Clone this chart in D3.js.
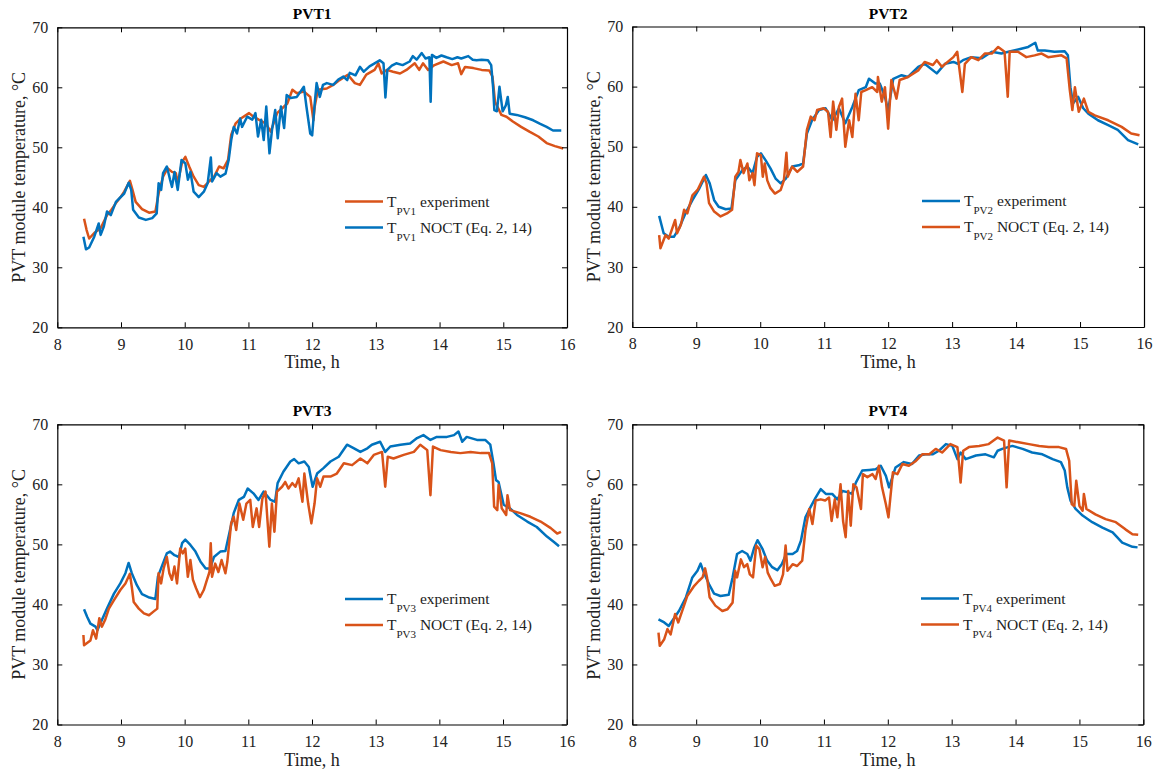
<!DOCTYPE html>
<html>
<head>
<meta charset="utf-8">
<script src="https://cdn.jsdelivr.net/npm/d3@7"></script>
<style>
  body { margin: 0; background: #fff; }
  svg { font-family: "Liberation Serif", "Times New Roman", serif; }
</style>
</head>
<body>
<svg id="chart" width="1161" height="780"></svg>
<script>
// Tick values
const hourTicks = [8, 9, 10, 11, 12, 13, 14, 15, 16];
const tempTicks = [20, 30, 40, 50, 60, 70];

// Series: [time (h), temperature (°C)]
const pvt1Exp = [[8.42,38.1],[8.46,36.2],[8.50,34.8],[8.58,35.7],[8.68,36.5],[8.78,38.7],[8.85,39.6],[8.92,40.7],[9.0,41.8],[9.05,42.6],[9.14,44.4],[9.18,42.9],[9.23,40.9],[9.33,39.7],[9.44,39.1],[9.54,39.3],[9.59,42.3],[9.66,45.1],[9.73,46.5],[9.80,45.9],[9.86,45.7],[9.89,44.0],[9.96,47.6],[10.01,48.4],[10.07,46.8],[10.14,45.1],[10.22,43.7],[10.30,43.4],[10.38,44.3],[10.46,45.1],[10.54,46.8],[10.61,46.5],[10.68,47.9],[10.73,52.1],[10.80,54.0],[10.88,54.8],[11.01,55.7],[11.08,55.1],[11.16,54.6],[11.27,54.0],[11.35,52.6],[11.45,55.7],[11.61,57.3],[11.69,59.6],[11.76,59.0],[11.87,59.3],[11.97,58.4],[12.02,54.5],[12.04,56.8],[12.09,59.6],[12.23,59.8],[12.33,60.4],[12.43,61.2],[12.56,62.1],[12.67,60.7],[12.75,60.4],[12.85,62.1],[12.98,62.9],[13.04,64.0],[13.09,62.3],[13.17,62.9],[13.27,62.6],[13.38,62.3],[13.48,62.9],[13.61,64.0],[13.68,62.9],[13.74,64.0],[13.82,62.9],[13.92,63.7],[14.06,64.3],[14.19,63.7],[14.29,64.0],[14.34,62.2],[14.40,63.4],[14.53,63.2],[14.66,62.9],[14.78,62.8],[14.83,61.8],[14.87,57.6],[14.92,56.5],[14.97,55.4],[15.05,55.1],[15.15,54.3],[15.28,53.4],[15.41,52.6],[15.55,51.8],[15.68,50.7],[15.81,50.2],[15.94,49.8]];
const pvt1Noct = [[8.41,35.1],[8.45,33.0],[8.50,33.3],[8.58,35.1],[8.65,37.3],[8.68,35.4],[8.73,36.8],[8.78,39.3],[8.84,38.7],[8.92,40.9],[9.05,42.3],[9.12,44.1],[9.16,42.9],[9.19,39.6],[9.28,38.3],[9.39,37.9],[9.49,38.2],[9.56,39.0],[9.59,44.0],[9.63,42.9],[9.66,45.7],[9.72,46.8],[9.77,44.6],[9.80,43.4],[9.84,45.9],[9.89,42.9],[9.95,47.9],[10.01,47.3],[10.05,44.6],[10.09,45.9],[10.14,42.6],[10.22,41.7],[10.30,42.6],[10.36,44.0],[10.41,48.3],[10.43,44.3],[10.50,45.7],[10.56,45.1],[10.64,45.6],[10.69,47.9],[10.73,51.2],[10.77,53.4],[10.82,52.3],[10.87,54.8],[10.90,53.4],[10.98,55.1],[11.06,54.6],[11.11,55.7],[11.15,51.8],[11.20,54.6],[11.24,51.2],[11.28,56.8],[11.33,49.0],[11.37,52.9],[11.42,56.2],[11.46,51.5],[11.51,56.8],[11.56,53.2],[11.60,58.7],[11.66,58.2],[11.76,58.4],[11.87,60.1],[11.91,56.8],[11.97,52.3],[12.00,52.0],[12.04,57.3],[12.07,60.7],[12.12,58.4],[12.17,60.4],[12.23,60.7],[12.33,60.4],[12.41,61.3],[12.49,61.8],[12.55,61.2],[12.59,62.4],[12.68,62.0],[12.75,63.4],[12.81,62.6],[12.90,63.5],[12.98,64.0],[13.06,64.5],[13.12,64.0],[13.15,58.3],[13.18,62.9],[13.25,63.6],[13.32,64.0],[13.42,63.7],[13.53,64.3],[13.58,65.2],[13.64,64.6],[13.72,65.7],[13.78,64.8],[13.84,65.0],[13.86,57.6],[13.88,65.4],[13.95,64.9],[14.03,65.3],[14.11,65.0],[14.20,64.7],[14.28,65.0],[14.34,64.8],[14.45,65.2],[14.52,64.6],[14.58,64.5],[14.66,64.6],[14.76,64.5],[14.81,63.7],[14.84,60.0],[14.86,56.2],[14.90,56.0],[14.94,60.1],[14.99,56.0],[15.04,57.0],[15.07,58.4],[15.10,55.6],[15.21,55.4],[15.34,55.0],[15.47,54.5],[15.58,53.9],[15.68,53.4],[15.78,52.8],[15.91,52.8]];

const pvt2Exp = [[8.42,38.5],[8.49,35.6],[8.57,35.0],[8.65,35.0],[8.73,36.4],[8.83,38.9],[8.94,41.1],[9.04,42.9],[9.15,45.3],[9.21,43.9],[9.28,41.1],[9.35,40.0],[9.46,39.6],[9.55,39.7],[9.61,44.4],[9.72,46.1],[9.80,46.7],[9.88,45.6],[9.95,48.3],[10.01,48.9],[10.08,47.8],[10.16,46.4],[10.24,44.7],[10.32,43.9],[10.40,44.7],[10.50,46.7],[10.60,46.9],[10.67,47.2],[10.73,52.2],[10.81,54.4],[10.92,56.1],[11.02,56.4],[11.13,54.4],[11.23,56.4],[11.33,53.9],[11.44,56.6],[11.54,59.4],[11.65,59.9],[11.70,61.3],[11.80,60.5],[11.87,60.5],[11.95,58.3],[12.00,56.0],[12.08,61.3],[12.21,61.9],[12.31,61.6],[12.47,63.3],[12.57,63.8],[12.76,62.2],[12.89,63.8],[13.02,64.1],[13.09,63.8],[13.17,64.4],[13.30,64.9],[13.46,64.7],[13.62,65.8],[13.77,65.5],[13.88,65.8],[14.08,66.3],[14.19,66.6],[14.30,67.3],[14.34,66.0],[14.45,66.0],[14.60,65.8],[14.76,65.9],[14.81,65.2],[14.85,59.9],[14.89,57.2],[14.97,58.3],[15.05,56.4],[15.13,55.5],[15.28,54.4],[15.44,53.6],[15.59,52.8],[15.75,51.1],[15.91,50.4]];
const pvt2Noct = [[8.42,35.3],[8.44,33.1],[8.52,35.3],[8.57,34.7],[8.67,37.8],[8.70,35.6],[8.76,37.0],[8.81,39.5],[8.86,38.9],[8.94,41.9],[9.02,42.8],[9.12,45.0],[9.16,43.9],[9.20,40.6],[9.28,39.2],[9.38,38.4],[9.48,38.9],[9.56,39.5],[9.61,45.0],[9.66,45.8],[9.69,47.8],[9.74,45.6],[9.80,47.2],[9.83,44.4],[9.88,45.6],[9.91,43.6],[9.95,48.9],[10.01,48.6],[10.04,45.0],[10.07,47.2],[10.11,44.4],[10.16,43.1],[10.23,42.2],[10.32,42.8],[10.37,44.4],[10.41,49.0],[10.43,45.0],[10.50,46.7],[10.58,45.8],[10.67,46.7],[10.73,52.8],[10.79,55.0],[10.85,54.4],[10.89,56.1],[10.99,56.4],[11.06,55.8],[11.10,51.6],[11.14,57.5],[11.19,52.8],[11.23,56.6],[11.28,58.0],[11.33,50.0],[11.39,54.4],[11.44,51.6],[11.49,58.8],[11.54,54.4],[11.58,59.1],[11.65,59.4],[11.75,59.9],[11.83,59.1],[11.84,61.6],[11.90,57.5],[11.95,59.9],[12.00,53.0],[12.05,61.1],[12.13,58.0],[12.18,61.1],[12.31,61.6],[12.47,62.7],[12.57,64.1],[12.70,63.6],[12.76,64.4],[12.84,63.3],[13.02,64.9],[13.08,65.8],[13.16,59.1],[13.20,63.8],[13.30,64.9],[13.41,64.4],[13.51,65.5],[13.62,65.5],[13.72,66.6],[13.82,65.8],[13.87,58.3],[13.90,65.8],[14.03,65.8],[14.16,64.9],[14.29,65.2],[14.40,65.5],[14.50,64.9],[14.71,65.2],[14.79,64.7],[14.84,59.4],[14.88,56.1],[14.92,59.9],[14.98,55.8],[15.06,58.0],[15.13,55.8],[15.23,55.2],[15.44,54.4],[15.65,53.3],[15.80,52.2],[15.93,51.9]];

const pvt3Exp = [[8.42,39.2],[8.47,37.9],[8.52,36.8],[8.60,36.3],[8.63,35.7],[8.70,37.4],[8.78,39.3],[8.89,41.8],[8.99,43.5],[9.07,45.2],[9.12,46.9],[9.17,45.2],[9.25,43.2],[9.33,41.7],[9.43,41.2],[9.54,40.9],[9.58,44.6],[9.64,46.3],[9.72,48.5],[9.77,48.8],[9.84,48.2],[9.91,47.9],[9.96,50.2],[10.01,50.8],[10.09,49.9],[10.17,48.8],[10.25,47.1],[10.33,46.0],[10.40,46.0],[10.46,47.9],[10.56,48.8],[10.64,48.9],[10.69,51.3],[10.77,55.2],[10.85,57.4],[10.93,57.9],[10.99,59.3],[11.08,58.5],[11.16,57.4],[11.24,58.8],[11.35,57.4],[11.42,57.1],[11.46,60.2],[11.55,62.1],[11.66,63.8],[11.72,64.2],[11.79,63.5],[11.88,63.8],[11.95,62.9],[12.01,59.6],[12.08,61.8],[12.18,62.7],[12.29,63.8],[12.42,64.6],[12.55,66.6],[12.66,66.0],[12.76,65.4],[12.87,66.0],[12.94,66.6],[13.07,67.1],[13.15,65.4],[13.23,66.3],[13.39,66.6],[13.54,66.8],[13.65,67.7],[13.75,68.2],[13.86,67.4],[13.96,67.9],[14.12,67.9],[14.23,68.2],[14.30,68.8],[14.36,67.1],[14.43,67.9],[14.59,67.4],[14.72,67.4],[14.80,66.6],[14.85,63.5],[14.89,60.7],[14.93,60.4],[15.01,56.6],[15.11,56.0],[15.22,54.9],[15.38,53.8],[15.53,52.9],[15.69,51.3],[15.80,50.4],[15.88,49.7]];
const pvt3Noct = [[8.41,34.9],[8.42,33.2],[8.52,34.0],[8.56,35.7],[8.61,34.3],[8.66,37.7],[8.70,36.3],[8.75,37.4],[8.81,39.3],[8.89,40.7],[8.99,42.4],[9.07,43.5],[9.14,45.1],[9.17,42.9],[9.20,40.4],[9.28,39.3],[9.36,38.5],[9.44,38.2],[9.51,38.8],[9.57,39.3],[9.59,45.2],[9.63,43.5],[9.67,46.0],[9.72,47.9],[9.76,45.2],[9.80,44.1],[9.84,46.3],[9.88,43.5],[9.93,49.3],[9.97,48.5],[10.01,49.3],[10.05,44.6],[10.09,47.4],[10.13,44.1],[10.18,42.7],[10.24,41.2],[10.30,42.4],[10.35,44.1],[10.39,45.4],[10.41,50.2],[10.43,44.6],[10.48,46.8],[10.53,45.4],[10.58,47.4],[10.64,45.2],[10.67,47.1],[10.73,53.5],[10.77,54.6],[10.81,52.4],[10.86,56.8],[10.92,54.1],[10.97,56.8],[11.03,57.4],[11.07,52.9],[11.13,56.0],[11.17,52.9],[11.22,57.6],[11.27,58.8],[11.30,54.1],[11.33,49.6],[11.37,56.8],[11.41,52.1],[11.45,58.8],[11.53,59.6],[11.58,60.4],[11.63,59.3],[11.69,60.2],[11.74,59.6],[11.79,61.0],[11.85,57.1],[11.88,61.8],[11.94,56.8],[11.99,53.5],[12.04,56.8],[12.08,61.0],[12.13,59.6],[12.18,61.3],[12.29,61.3],[12.39,61.8],[12.50,63.5],[12.63,63.2],[12.76,64.3],[12.87,63.5],[12.97,64.9],[13.10,65.4],[13.15,59.6],[13.19,64.6],[13.28,64.3],[13.44,64.9],[13.60,65.4],[13.70,66.6],[13.81,65.7],[13.86,58.2],[13.90,66.3],[14.02,65.7],[14.18,65.4],[14.33,65.2],[14.49,65.4],[14.65,65.2],[14.78,65.2],[14.83,63.5],[14.86,56.3],[14.91,55.7],[14.93,59.9],[14.98,56.0],[15.05,54.9],[15.07,58.2],[15.11,55.7],[15.27,55.2],[15.43,54.6],[15.59,53.8],[15.75,52.7],[15.85,51.8],[15.91,52.1]];

const pvt4Exp = [[8.41,37.5],[8.50,37.0],[8.57,36.4],[8.64,37.5],[8.73,38.9],[8.84,41.2],[8.94,44.5],[9.02,45.6],[9.07,46.8],[9.12,45.3],[9.20,43.4],[9.28,41.8],[9.38,41.4],[9.51,41.6],[9.57,44.5],[9.64,48.4],[9.72,48.9],[9.80,48.4],[9.85,47.3],[9.91,49.5],[9.96,50.7],[10.04,49.2],[10.11,47.3],[10.19,46.2],[10.27,45.7],[10.34,46.7],[10.41,48.4],[10.51,48.4],[10.58,48.9],[10.64,50.6],[10.71,54.5],[10.79,56.2],[10.87,57.8],[10.95,59.2],[11.03,58.4],[11.13,58.4],[11.21,57.5],[11.29,58.9],[11.37,58.7],[11.44,58.4],[11.50,60.3],[11.60,62.3],[11.71,62.4],[11.81,62.5],[11.89,63.1],[11.97,61.4],[12.02,59.5],[12.12,62.8],[12.25,63.7],[12.38,63.4],[12.49,64.8],[12.59,65.0],[12.70,65.0],[12.80,65.6],[12.91,66.7],[13.01,66.4],[13.09,64.2],[13.14,65.3],[13.22,64.2],[13.38,64.8],[13.53,65.0],[13.66,64.5],[13.72,65.6],[13.79,65.9],[13.95,66.4],[14.11,65.9],[14.26,65.3],[14.42,65.0],[14.58,64.2],[14.71,63.7],[14.77,62.3],[14.81,59.5],[14.86,57.3],[14.94,55.9],[15.05,54.8],[15.20,53.7],[15.36,52.8],[15.52,52.0],[15.67,50.3],[15.83,49.6],[15.91,49.5]];
const pvt4Noct = [[8.41,35.3],[8.43,33.1],[8.50,34.2],[8.55,35.9],[8.60,35.0],[8.67,38.4],[8.72,37.0],[8.78,38.9],[8.86,41.4],[8.97,43.1],[9.04,43.9],[9.10,44.5],[9.14,46.0],[9.17,44.5],[9.21,41.2],[9.30,39.8],[9.41,38.9],[9.49,39.2],[9.57,40.3],[9.61,45.6],[9.64,44.5],[9.70,47.5],[9.75,46.2],[9.80,46.7],[9.84,45.0],[9.89,44.5],[9.94,49.8],[9.99,49.2],[10.04,46.2],[10.08,47.9],[10.12,45.3],[10.17,44.2],[10.23,43.1],[10.31,43.4],[10.36,45.0],[10.40,49.8],[10.43,45.6],[10.51,46.7],[10.58,46.4],[10.66,47.3],[10.71,52.3],[10.77,55.9],[10.82,53.4],[10.87,57.3],[10.95,57.5],[11.02,57.3],[11.08,57.8],[11.12,53.9],[11.17,57.5],[11.21,54.5],[11.26,60.0],[11.30,53.9],[11.34,51.2],[11.38,58.9],[11.42,53.1],[11.46,60.0],[11.51,59.5],[11.58,55.9],[11.61,61.7],[11.68,61.2],[11.76,61.7],[11.81,60.9],[11.86,63.1],[11.91,59.5],[11.97,56.7],[12.01,54.5],[12.04,57.8],[12.08,62.0],[12.15,61.7],[12.23,63.4],[12.33,63.1],[12.44,63.9],[12.54,65.0],[12.65,65.0],[12.75,65.9],[12.85,65.3],[12.98,66.7],[13.09,66.2],[13.14,60.3],[13.18,65.6],[13.27,66.2],[13.43,66.4],[13.58,66.7],[13.72,67.8],[13.82,67.3],[13.86,59.5],[13.90,67.3],[14.05,67.0],[14.21,66.7],[14.37,66.4],[14.52,66.2],[14.68,66.2],[14.79,65.9],[14.84,63.9],[14.88,56.7],[14.92,56.4],[14.95,60.6],[15.00,56.4],[15.05,55.6],[15.07,58.4],[15.11,55.9],[15.25,55.0],[15.41,54.2],[15.57,53.7],[15.72,52.5],[15.83,51.7],[15.92,51.6]];

const panelTitles = ["PVT1", "PVT2", "PVT3", "PVT4"];
const moduleTags = ["PV1", "PV2", "PV3", "PV4"];
const expSeries = [pvt1Exp, pvt2Exp, pvt3Exp, pvt4Exp];
const noctSeries = [pvt1Noct, pvt2Noct, pvt3Noct, pvt4Noct];

const BLUE = "#0072BD", ORANGE = "#D95319";

// Axes boxes on the page
const boxes = [
  { x0: 57.3,  x1: 567.0,  y0: 27.3,  y1: 327.3, legX: 345, legY: 201.5, labX: 19 },
  { x0: 632.3, x1: 1144.0, y0: 26.5,  y1: 327.0, legX: 922, legY: 201.0, labX: 594 },
  { x0: 57.3,  x1: 566.7,  y0: 424.3, y1: 724.5, legX: 345, legY: 599.0, labX: 19 },
  { x0: 632.3, x1: 1143.3, y0: 424.3, y1: 724.5, legX: 921, legY: 598.5, labX: 594 }
];

const svg = d3.select("#chart");

boxes.forEach((b, i) => {
  const x = d3.scaleLinear().domain([8, 16]).range([b.x0, b.x1]);
  const y = d3.scaleLinear().domain([20, 70]).range([b.y1, b.y0]);
  const g = svg.append("g");

  // experiment is orange in panel 1, blue elsewhere
  const expColor = i === 0 ? ORANGE : BLUE;
  const noctColor = i === 0 ? BLUE : ORANGE;

  const clipId = "clip" + i;
  svg.append("clipPath").attr("id", clipId)
    .append("rect").attr("x", b.x0).attr("y", b.y0)
    .attr("width", b.x1 - b.x0).attr("height", b.y1 - b.y0);

  const line = d3.line().x(d => x(d[0])).y(d => y(d[1]));
  const plot = g.append("g").attr("clip-path", `url(#${clipId})`);
  plot.append("path").datum(expSeries[i])
    .attr("d", line).attr("fill", "none")
    .attr("stroke", expColor).attr("stroke-width", 2.5)
    .attr("stroke-linejoin", "round");
  plot.append("path").datum(noctSeries[i])
    .attr("d", line).attr("fill", "none")
    .attr("stroke", noctColor).attr("stroke-width", 2.5)
    .attr("stroke-linejoin", "round");

  // Box-style axes with inward ticks on all four sides
  const tickLen = 5;
  const bottom = g.append("g").attr("transform", `translate(0,${b.y1})`)
    .call(d3.axisBottom(x).tickValues(hourTicks).tickSizeInner(-tickLen).tickSizeOuter(0).tickPadding(11));
  const top = g.append("g").attr("transform", `translate(0,${b.y0})`)
    .call(d3.axisTop(x).tickValues(hourTicks).tickSizeInner(-tickLen).tickSizeOuter(0).tickFormat(""));
  const left = g.append("g").attr("transform", `translate(${b.x0},0)`)
    .call(d3.axisLeft(y).tickValues(tempTicks).tickSizeInner(-tickLen).tickSizeOuter(0).tickPadding(9));
  const right = g.append("g").attr("transform", `translate(${b.x1},0)`)
    .call(d3.axisRight(y).tickValues(tempTicks).tickSizeInner(-tickLen).tickSizeOuter(0).tickFormat(""));

  [bottom, top, left, right].forEach(a => {
    a.selectAll("path.domain").attr("stroke", "#000").attr("stroke-width", 1.2);
    a.selectAll(".tick line").attr("stroke", "#000").attr("stroke-width", 1);
    a.selectAll(".tick text").attr("fill", "#222")
      .style("font-family", '"Liberation Serif", serif').style("font-size", "16px");
  });

  // Title
  g.append("text")
    .attr("x", (b.x0 + b.x1) / 2).attr("y", b.y0 - 8)
    .attr("text-anchor", "middle")
    .style("font-size", "15.5px").style("font-weight", "bold")
    .text(panelTitles[i]);

  // Axis labels
  g.append("text")
    .attr("x", (b.x0 + b.x1) / 2).attr("y", b.y1 + 41)
    .attr("text-anchor", "middle").attr("fill", "#222")
    .style("font-size", "18px")
    .text("Time, h");
  g.append("text")
    .attr("transform", `translate(${b.labX},${(b.y0 + b.y1) / 2}) rotate(-90)`)
    .attr("text-anchor", "middle").attr("dy", "0.35em").attr("fill", "#222")
    .style("font-size", "18px")
    .text("PVT module temperature, °C");

  // Legend
  const entries = [
    { color: expColor, rest: " experiment" },
    { color: noctColor, rest: " NOCT (Eq. 2, 14)" }
  ];
  entries.forEach((e, k) => {
    const ly = b.legY + k * 26;
    g.append("line")
      .attr("x1", b.legX).attr("x2", b.legX + 38)
      .attr("y1", ly).attr("y2", ly)
      .attr("stroke", e.color).attr("stroke-width", 2.5);
    const t = g.append("text")
      .attr("x", b.legX + 42).attr("y", ly + 5)
      .attr("fill", "#222").style("font-size", "15.5px");
    t.append("tspan").text("T");
    t.append("tspan").attr("dy", 8).style("font-size", "11px").text(moduleTags[i]);
    t.append("tspan").attr("dy", -8).text(e.rest);
  });
});
</script>
</body>
</html>
